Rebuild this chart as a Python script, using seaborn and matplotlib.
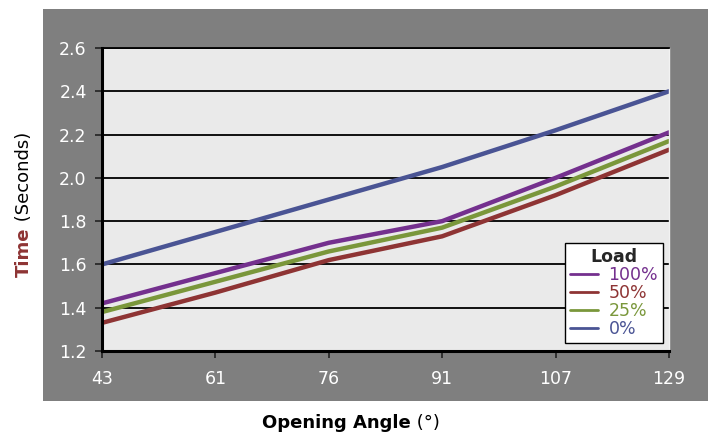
import matplotlib
matplotlib.use("Agg")
import matplotlib.pyplot as plt
import seaborn as sns
import pandas as pd
from matplotlib.patches import Rectangle
from matplotlib.lines import Line2D

angles = ["43", "61", "76", "91", "107", "129"]
load_100 = [1.42, 1.56, 1.70, 1.80, 2.00, 2.21]
load_50 = [1.33, 1.47, 1.62, 1.73, 1.92, 2.13]
load_25 = [1.38, 1.52, 1.66, 1.77, 1.96, 2.17]
load_0 = [1.60, 1.75, 1.90, 2.05, 2.22, 2.40]
series_names = ["100%", "50%", "25%", "0%"]
colors = ["#74308E", "#8E3434", "#7A973B", "#4A5494"]
yticks = [1.2, 1.4, 1.6, 1.8, 2.0, 2.2, 2.4, 2.6]

rows = []
for name, vals in zip(series_names, [load_100, load_50, load_25, load_0]):
    for a, v in zip(angles, vals):
        rows.append({"Angle": a, "Time": v, "Load": name})
df = pd.DataFrame(rows)

sns.set_theme(style="white")
plt.rcParams["font.family"] = ["DejaVu Sans"]

fig = plt.figure(figsize=(7.08, 4.37), dpi=100)
fig.patch.set_facecolor("white")
W, H = 708, 437
# gray panel
panel = Rectangle((43 / W, 1 - 401 / H), 1 - 43 / W, (401 - 9) / H,
                  transform=fig.transFigure, facecolor="#7F7F7F",
                  edgecolor="none", zorder=-10)
fig.add_artist(panel)

ax = fig.add_axes([102 / W, 1 - 351 / H, (669 - 102) / W, (351 - 48) / H])
ax.set_zorder(5)
ax.set_facecolor("#EAEAEA")

sns.lineplot(data=df, x="Angle", y="Time", hue="Load", hue_order=series_names,
             palette=colors, linewidth=3.2, ax=ax, legend=False, sort=False)

ax.set_xlim(0, len(angles) - 1)
ax.set_ylim(1.2, 2.6)
ax.set_yticks(yticks)
ax.set_yticklabels([f"{t:.1f}" for t in yticks])
ax.set_xticks(range(len(angles)))
ax.set_xticklabels(angles)
ax.grid(axis="y", color="black", linewidth=1.3)
ax.set_axisbelow(True)
for s in ["left", "bottom"]:
    ax.spines[s].set_color("black")
    ax.spines[s].set_linewidth(2.2)
ax.spines["top"].set_color("black")
ax.spines["top"].set_linewidth(1.3)
ax.spines["right"].set_color("#F2F2F2")
ax.spines["right"].set_linewidth(1.0)
ax.tick_params(axis="both", which="major", direction="out", length=5, width=1.2,
               color="#222222", labelcolor="white", labelsize=12.5, left=True, bottom=True)
ax.tick_params(axis="y", pad=6)
ax.tick_params(axis="x", pad=9)
ax.set_xlabel("")
ax.set_ylabel("")

# legend
handles = [Line2D([0], [0], color=c, linewidth=2) for c in colors]
leg = ax.legend(handles, series_names, title="Load", loc="lower right",
                bbox_to_anchor=(0.99, 0.026), borderaxespad=0, frameon=True,
                fancybox=False, edgecolor="black", facecolor="white", framealpha=1,
                fontsize=12.5, title_fontsize=12.5, labelcolor=colors,
                handlelength=1.6, handletextpad=0.6, labelspacing=0.0,
                borderpad=0.3)
leg.get_title().set_fontweight("bold")
leg.get_frame().set_linewidth(1.0)

# y label (two colors)
t1 = fig.text(24 / W, 1 - 277 / H, "Time", rotation=90, ha="center", va="bottom",
              color="#8E3434", fontweight="bold", fontsize=13)
plt.annotate(" (Seconds)", xy=(0.5, 1.0), xycoords=t1, rotation=90,
             ha="center", va="bottom", color="black", fontsize=13,
             annotation_clip=False)
# x label
t2 = fig.text(262 / W, 1 - 423 / H, "Opening Angle", ha="left", va="center",
              color="black", fontweight="bold", fontsize=13)
plt.annotate(" (°)", xy=(1.0, 0.5), xycoords=t2, ha="left", va="center",
             color="black", fontsize=13, annotation_clip=False)

fig.savefig("out.png", dpi=100)
